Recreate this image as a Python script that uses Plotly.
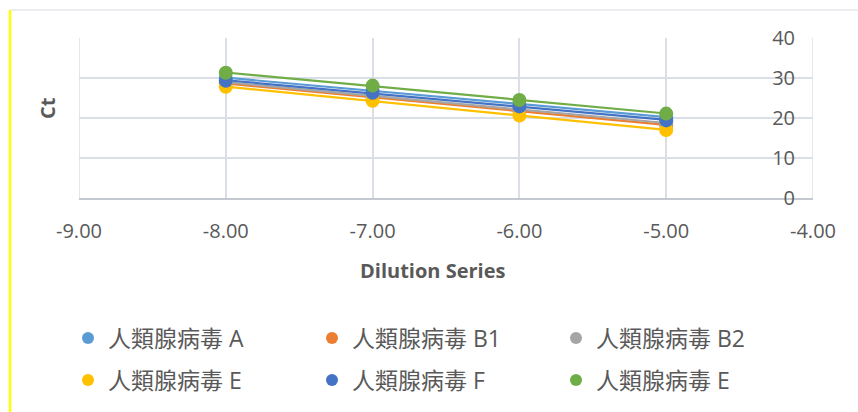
import numpy as np
import plotly.graph_objects as go

# Dilution series (log10) and Ct values per assay
dilution = [-8, -7, -6, -5]
series_names = ["人類腺病毒 A", "人類腺病毒 B1", "人類腺病毒 B2",
                "人類腺病毒 E", "人類腺病毒 F", "人類腺病毒 E"]
ct_a = [30.0, 26.9, 23.5, 20.2]
ct_b1 = [28.6, 25.2, 21.8, 18.2]
ct_b2 = [28.9, 25.6, 22.2, 18.7]
ct_e = [27.8, 24.3, 20.6, 17.0]
ct_f = [29.3, 26.3, 22.9, 19.4]
ct_e2 = [31.3, 28.1, 24.5, 21.1]
colors = ["#5B9BD5", "#ED7D31", "#A5A5A5", "#FFC000", "#4472C4", "#70AD47"]

x_ticks = [-9, -8, -7, -6, -5, -4]
x_labels = ["-9.00", "-8.00", "-7.00", "-6.00", "-5.00", "-4.00"]
y_ticks = [0, 10, 20, 30, 40]

W, H = 858, 412
ML, MR, MT, MB = 79, 45, 38, 214

FONT = "Open Sans, Noto Sans CJK TC, sans-serif"
TXT = "#595959"

pw = W - ML - MR
ph = H - MT - MB
def px_x(p):
    return (p - ML) / pw
def px_y(p):
    return (H - MB - p) / ph

fig = go.Figure()
all_ct = [ct_a, ct_b1, ct_b2, ct_e, ct_f, ct_e2]

# Linear trendlines (least squares) drawn under the markers
for ct, col in zip(all_ct, colors):
    slope, icpt = np.polyfit(dilution, ct, 1)
    xs = np.array([dilution[0], dilution[-1]], dtype=float)
    fig.add_trace(go.Scatter(x=xs, y=slope * xs + icpt, mode="lines",
                             line=dict(color=col, width=2.2),
                             showlegend=False, hoverinfo="skip"))

# Markers; first three entries in the top legend row, rest in the second row
for i, (name, ct, col) in enumerate(zip(series_names, all_ct, colors)):
    fig.add_trace(go.Scatter(x=dilution, y=ct, mode="markers", name=name,
                             marker=dict(color=col, size=14),
                             legend="legend" if i < 3 else "legend2"))

grid = "#DADEE6"
fig.update_xaxes(range=[x_ticks[0], x_ticks[-1]], tickvals=x_ticks,
                 ticktext=x_labels, showgrid=True, gridcolor=grid, gridwidth=1.5,
                 showline=True, linecolor="#C4C8D0", linewidth=2,
                 zeroline=False, ticks="", ticklabelstandoff=14,
                 tickfont=dict(family=FONT, size=20, color=TXT),
                 fixedrange=True, layer="below traces")
fig.update_yaxes(range=[0, 40], tickvals=y_ticks, side="left",
                 anchor="free", position=px_x(795),
                 showgrid=True, gridcolor=grid, gridwidth=1.5,
                 showline=False, zeroline=False,
                 ticks="", tickfont=dict(family=FONT, size=20, color=TXT),
                 fixedrange=True)

# Gridlines at the two ends of the x range
for xv in (x_ticks[0], x_ticks[-1]):
    fig.add_shape(type="line", xref="x", yref="y", layer="below",
                  x0=xv, x1=xv, y0=y_ticks[0], y1=y_ticks[-1],
                  line=dict(color=grid, width=1.5))

fig.add_annotation(text="<b>Ct</b>", textangle=-90, xref="paper", yref="paper",
                   x=px_x(47), y=px_y(108), xanchor="center", yanchor="middle",
                   showarrow=False, font=dict(family=FONT, size=20, color=TXT))
fig.add_annotation(text="<b>Dilution Series</b>", xref="paper", yref="paper",
                   x=px_x(432), y=px_y(270), xanchor="center", yanchor="middle",
                   showarrow=False, font=dict(family=FONT, size=20, color=TXT))

# Chart frame: top edge and highlighted left edge
fig.add_shape(type="line", xref="paper", yref="paper",
              x0=px_x(10), x1=px_x(W), y0=px_y(10), y1=px_y(10),
              line=dict(color="#E3E6EB", width=1.5))
fig.add_shape(type="line", xref="paper", yref="paper",
              x0=px_x(10), x1=px_x(10), y0=px_y(10), y1=px_y(H),
              line=dict(color="#FFFF00", width=2.5))

legend_common = dict(orientation="h", xanchor="left", yanchor="middle",
                     entrywidth=199, entrywidthmode="pixels",
                     itemsizing="constant", bgcolor="rgba(0,0,0,0)",
                     font=dict(family=FONT, size=23, color=TXT))

fig.update_layout(
    width=W, height=H,
    margin=dict(l=ML, r=MR, t=MT, b=MB, autoexpand=False),
    paper_bgcolor="white", plot_bgcolor="white",
    font=dict(family=FONT, color=TXT),
    legend=dict(x=px_x(68), y=px_y(338), **legend_common),
    legend2=dict(x=px_x(68), y=px_y(380), **legend_common),
)

fig.write_html("out.html")
